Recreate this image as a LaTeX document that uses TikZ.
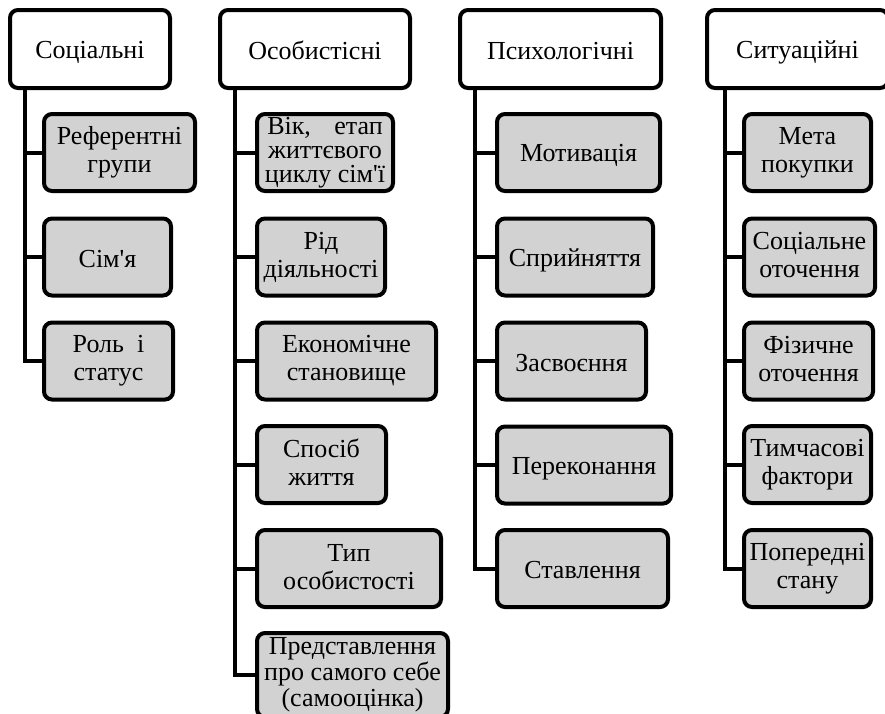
\documentclass[tikz,border=0pt]{standalone}
\usepackage{fontspec}
\setmainfont{Liberation Serif}
\usetikzlibrary{positioning}

\definecolor{boxgray}{RGB}{210,210,210}
\newcommand{\apos}{\textquotesingle}
\newcommand{\topstrut}{\rule{0pt}{24pt}}
\newcommand{\botstrut}{\rule[-4pt]{0pt}{4pt}}

\tikzset{
  box/.style={draw, line width=4pt, rounded corners=8pt, align=center,
    inner xsep=2pt, inner ysep=1pt, font=\fontsize{26}{28}\selectfont,
    execute at begin node=\topstrut, execute at end node=\botstrut},
  tight/.style={font=\fontsize{26}{24}\selectfont},
  head/.style={box, fill=white, minimum height=78pt},
  item/.style={box, fill=boxgray, minimum height=77pt, anchor=west},
  link/.style={line width=4pt}
}

\begin{document}
\begin{tikzpicture}[x=1pt, y=-1pt]
\useasboundingbox (0,0) rectangle (885,713);
\clip (0,0) rectangle (885,713);

% Define nodes
\path
(90,49) node[head, minimum width=160] (hsoc) {Соціальні}
(315,49) node[head, minimum width=190] (hosob) {Особистісні}
(560.5,49) node[head, minimum width=201] (hpsy) {Психологічні}
(797.5,49) node[head, minimum width=181] (hsit) {Ситуаційні}
(hsoc.south west) +(17,0) coordinate (tsoc)
(hosob.south west) +(17,0) coordinate (tosob)
(hpsy.south west) +(17,0) coordinate (tpsy)
(hsit.south west) +(20,0) coordinate (tsit)
;

% Social
\node[item, minimum width=151] (ref) at (42,152.5) {Референтні\\групи};
\node[item, minimum width=127] (sim) at (42,257) {Сім\apos я};
\node[item, minimum width=129] (rol) at (42,361) {Роль\ \ і\\статус};

% Personal
\node[item, tight, minimum width=136] (vik) at (255,152.5) {Вік,\hspace{0.9em}етап\\життєвого\\циклу сім\apos ї};
\node[item, minimum width=128] (rid) at (255,257) {Рід\\діяльності};
\node[item, minimum width=179] (eko) at (255,361) {Економічне\\становище};
\node[item, minimum width=129] (spo) at (255,464.5) {Спосіб\\життя};
\node[item, minimum width=184] (typ) at (255,568.5) {Тип\\особистості};
\node[item, font=\fontsize{26}{26}\selectfont, minimum width=191, minimum height=84] (pre) at (255,675) {Представлення\\про самого себе\\(самооцінка)};

% Psychological
\node[item, minimum width=163] (mot) at (495,152.5) {Мотивація};
\node[item, minimum width=156] (spr) at (495,257) {Сприйняття};
\node[item, minimum width=149] (zas) at (495,361) {Засвоєння};
\node[item, minimum width=174] (per) at (495,465) {Переконання};
\node[item, minimum width=171] (sta) at (495,568.5) {Ставлення};

% Situational
\node[item, minimum width=127] (met) at (742,152.5) {Мета\\покупки};
\node[item, minimum width=131] (soc) at (742,257) {Соціальне\\оточення};
\node[item, minimum width=129] (fiz) at (742,361) {Фізичне\\оточення};
\node[item, minimum width=127] (tym) at (742,464.5) {Тимчасові\\фактори};
\node[item, minimum width=127] (pop) at (742,568.5) {Попередні\\стану};

% Links
\foreach \t/\c in {tsoc/ref, tsoc/sim, tsoc/rol,
  tosob/vik, tosob/rid, tosob/eko, tosob/spo, tosob/typ, tosob/pre,
  tpsy/mot, tpsy/spr, tpsy/zas, tpsy/per, tpsy/sta,
  tsit/met, tsit/soc, tsit/fiz, tsit/tym, tsit/pop}
  \draw[link] (\t) |- (\c.west);

\end{tikzpicture}
\end{document}
